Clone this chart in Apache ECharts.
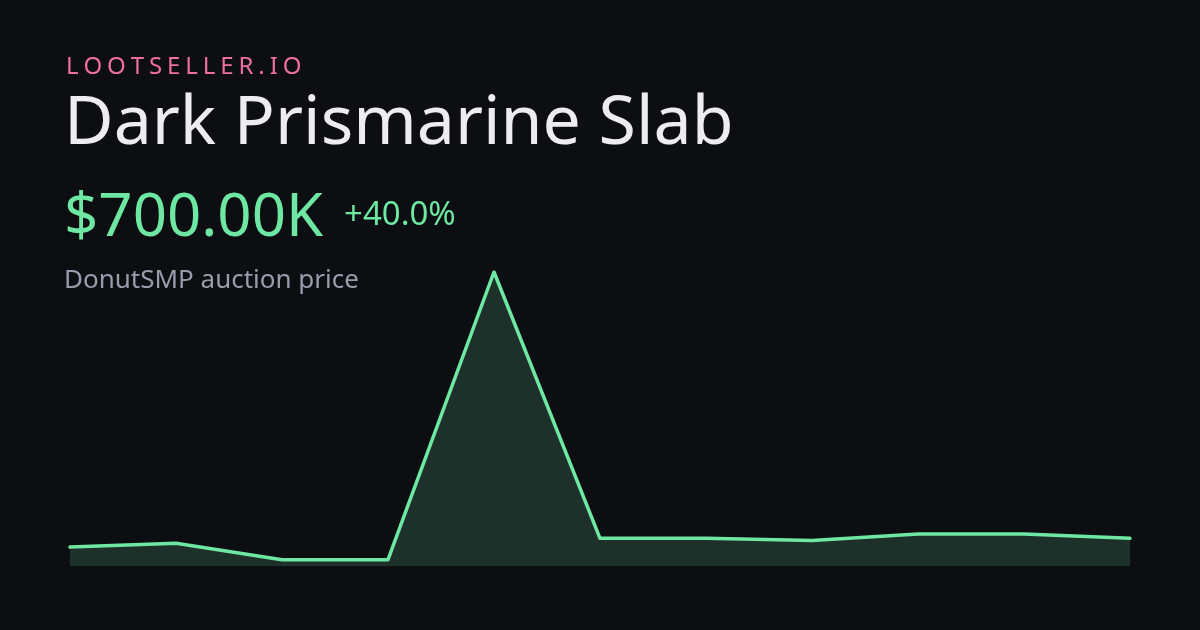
<!DOCTYPE html>
<html>
<head>
<meta charset="utf-8">
<style>
html,body{margin:0;padding:0;background:#0c0e12;}
#chart{width:1200px;height:630px;}
</style>
<script src="https://cdn.jsdelivr.net/npm/echarts@6/dist/echarts.min.js"></script>
</head>
<body>
<div id="chart"></div>
<script>
const brand = 'LOOTSELLER.IO';
const itemName = 'Dark Prismarine Slab';
const priceLabel = '$700.00K';
const changeLabel = '+40.0%';
const subtitle = 'DonutSMP auction price';
const categories = ['1','2','3','4','5','6','7','8','9','10','11'];
const prices = [45000, 54000, 15000, 15000, 700000, 66000, 66000, 61000, 76000, 76000, 66000];

const FONT = '"Noto Sans", "Open Sans", sans-serif';
const chart = echarts.init(document.getElementById('chart'), null, {renderer:'canvas'});

// letter-spaced brand text
const ctx = document.createElement('canvas').getContext('2d');
const brandSize = 24, brandSpacing = 4.9;
ctx.font = brandSize + 'px ' + FONT;
const brandChars = [];
let bx = 66;
for (const ch of brand) {
  brandChars.push({type:'text', x: bx, y: 55, style:{text: ch, fill:'#ee6fa2', font: brandSize + 'px ' + FONT, textVerticalAlign:'top'}});
  bx += ctx.measureText(ch).width + brandSpacing;
}

chart.setOption({
  backgroundColor: '#0c0e12',
  animation: false,
  grid: {left: 70, right: 70, top: 272, bottom: 64},
  xAxis: {type:'category', data: categories, boundaryGap:false, show:false},
  yAxis: {type:'value', min:0, max:700000, show:false, splitLine:{show:false}},
  series: [{
    type:'line', data: prices, symbol:'none', smooth:false,
    lineStyle:{color:'#6ee7a3', width:3.5, cap:'round', join:'round'},
    areaStyle:{color:'#1e302a', opacity:1}
  }],
  graphic: [
    {type:'group', children: brandChars},
    {type:'text', left: 64, top: 91, style:{text: itemName, fill:'#ececf1', font: '68px ' + FONT}},
    {type:'text', left: 64, top: 189, style:{text: priceLabel, fill:'#6ee7a3', font: '60px ' + FONT}},
    {type:'text', left: 344, top: 199, style:{text: changeLabel, fill:'#6ee7a3', font: '33px ' + FONT}},
    {type:'text', left: 64, top: 268, style:{text: subtitle, fill:'#9a9cab', font: '26px ' + FONT}}
  ]
});
</script>
</body>
</html>
